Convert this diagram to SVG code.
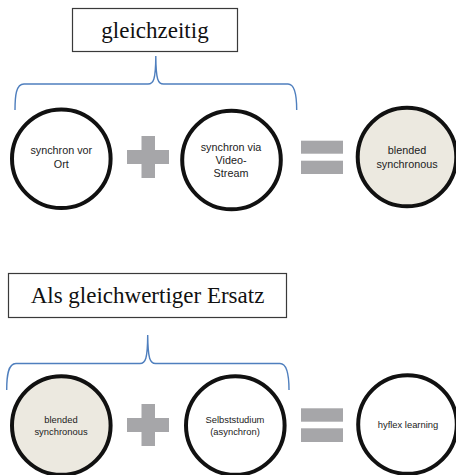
<svg xmlns="http://www.w3.org/2000/svg" width="456" height="475" viewBox="0 0 456 475">
<style>
.box{fill:#fff;stroke:#3a3a3a;stroke-width:1.2}
.title{font-family:"Liberation Serif","Times New Roman",serif;font-size:23px;fill:#111;text-anchor:middle}
.brace{fill:none;stroke:#4f7fbe;stroke-width:1.4}
.c{fill:#fff;stroke:#111;stroke-width:4}
.c.tan{fill:#ece9e0}
.t{font-family:"Liberation Sans",Arial,sans-serif;font-size:10.8px;fill:#222;text-anchor:middle}
.t2{font-family:"Liberation Sans",Arial,sans-serif;font-size:9.4px;fill:#222;text-anchor:middle}
.op{fill:#a6a6a9}
</style>
<rect width="456" height="475" fill="#fff"/>
<g id="title-top"><rect class="box" x="72.5" y="8.5" width="165" height="43"/><text class="title" x="155" y="38">gleichzeitig</text></g>
<g id="title-bottom"><rect class="box" x="8.5" y="273.5" width="278" height="44"/><text class="title" x="147.5" y="303">Als gleichwertiger Ersatz</text></g>
<g id="connectors">
<path class="brace" d="M15,110 C15,96 16,84 24,84 L148,84 C153.5,84 155.6,80 155.8,56 C156,80 158,84 163.5,84 L288,84 C295,84 296.7,96 296.7,110"/>
<path class="brace" d="M6.7,390 C6.7,376 8,363.5 16,363.5 L140,363.5 C145.5,363.5 147.5,359 147.7,335 C148,359 150,363.5 155.5,363.5 L280,363.5 C287,363.5 289,376 289,390"/>
</g>
<g id="n1"><circle class="c" cx="61.3" cy="158.8" r="49.3"/><text class="t" x="61.3" y="154">synchron vor</text><text class="t" x="61.3" y="167.5">Ort</text></g>
<g id="plus1"><rect class="op" x="127" y="150" width="42" height="14"/><rect class="op" x="141.5" y="136" width="13.5" height="42"/></g>
<g id="n2"><circle class="c" cx="231.5" cy="160" r="49.3"/><text class="t" x="231" y="150.5">synchron via</text><text class="t" x="231" y="163.5">Video-</text><text class="t" x="231" y="177">Stream</text></g>
<g id="eq1"><rect class="op" x="301" y="140.7" width="42" height="13"/><rect class="op" x="301" y="160.7" width="42" height="13.3"/></g>
<g id="n3"><circle class="c tan" cx="407" cy="157" r="49.3"/><text class="t" x="407" y="154">blended</text><text class="t" x="407" y="167.5">synchronous</text></g>
<g id="n4"><circle class="c tan" cx="61.3" cy="425.5" r="49.3"/><text class="t2" x="61" y="422.5">blended</text><text class="t2" x="61" y="434.5">synchronous</text></g>
<g id="plus2"><rect class="op" x="127" y="418" width="42" height="14"/><rect class="op" x="141.5" y="404" width="13.5" height="42"/></g>
<g id="n5"><circle class="c" cx="235.3" cy="425.5" r="49.3"/><text class="t2" x="235" y="422.5">Selbststudium</text><text class="t2" x="235" y="434.5">(asynchron)</text></g>
<g id="eq2"><rect class="op" x="301" y="408.3" width="42" height="13.4"/><rect class="op" x="301" y="428.3" width="42" height="13.7"/></g>
<g id="n6"><circle class="c" cx="407.5" cy="424.5" r="49.3"/><text class="t2" x="408" y="427.5">hyflex learning</text></g>
</svg>
